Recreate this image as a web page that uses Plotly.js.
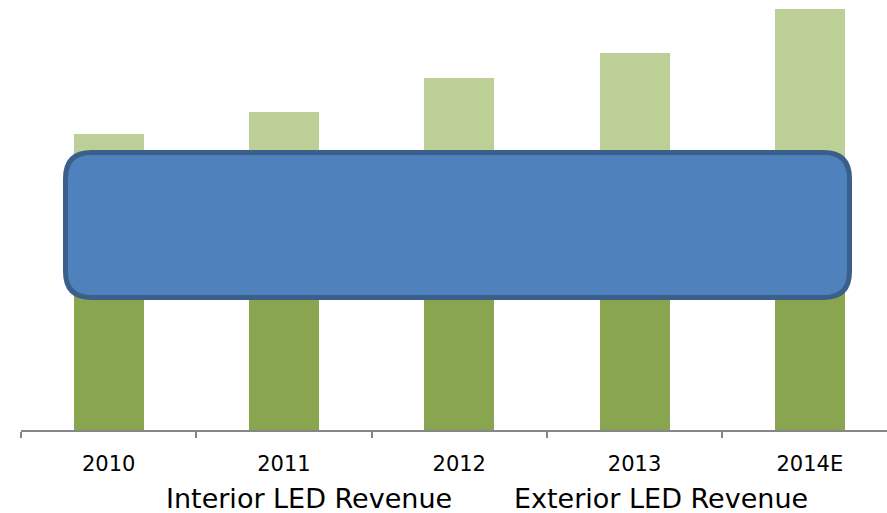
<!DOCTYPE html>
<html>
<head>
<meta charset="utf-8">
<script src="https://cdn.plot.ly/plotly-3.0.1.min.js"></script>
<style>
  html, body { margin: 0; padding: 0; background: #fff; }
  #chart { width: 887px; height: 513px; }
</style>
</head>
<body>
<div id="chart"></div>
<script>
const years = ['2010', '2011', '2012', '2013', '2014E'];
const interiorRevenue = [20, 21, 23, 24, 26];
const exteriorRevenue = [9.6, 10.8, 12.2, 13.7, 16.1];
const seriesNames = ['Interior LED Revenue', 'Exterior LED Revenue'];
const seriesColors = ['#8AA54F', '#BBCF97'];

const FONT = 'DejaVu Sans, Verdana, sans-serif';
const W = 887, H = 513;
const M = { l: 21, r: 0, t: 0, b: 83 };
const plotW = W - M.l - M.r, plotH = H - M.t - M.b;

// helpers converting pixel positions to paper coordinates
const px = x => (x - M.l) / plotW;
const py = y => (plotH + M.t - y) / plotH;

function roundedRect(x0, y0, x1, y1, r) {
  const p = (x, y) => px(x) + ',' + py(y);
  return 'M' + p(x0 + r, y0) +
    ' L' + p(x1 - r, y0) + ' Q' + p(x1, y0) + ' ' + p(x1, y0 + r) +
    ' L' + p(x1, y1 - r) + ' Q' + p(x1, y1) + ' ' + p(x1 - r, y1) +
    ' L' + p(x0 + r, y1) + ' Q' + p(x0, y1) + ' ' + p(x0, y1 - r) +
    ' L' + p(x0, y0 + r) + ' Q' + p(x0, y0) + ' ' + p(x0 + r, y0) + ' Z';
}

const traces = [
  { type: 'bar', x: years, y: interiorRevenue, name: seriesNames[0],
    marker: { color: seriesColors[0] }, hoverinfo: 'skip' },
  { type: 'bar', x: years, y: exteriorRevenue, name: seriesNames[1],
    marker: { color: seriesColors[1] }, hoverinfo: 'skip' }
];

const legendFont = { family: FONT, size: 27, color: '#000000' };

const layout = {
  width: W, height: H,
  margin: M,
  barmode: 'stack',
  bargap: 0.6,
  showlegend: false,
  paper_bgcolor: '#ffffff',
  plot_bgcolor: '#ffffff',
  font: { family: FONT, color: '#000000' },
  xaxis: {
    type: 'category',
    range: [-0.5, 4.44],
    showline: true, linecolor: '#868686', linewidth: 2,
    ticks: 'outside', tickson: 'boundaries', ticklen: 6, tickwidth: 2, tickcolor: '#868686',
    tickfont: { family: FONT, size: 21, color: '#000000' },
    ticklabelstandoff: 14,
    showgrid: false, zeroline: false, fixedrange: true
  },
  yaxis: {
    range: [0, 43],
    visible: false, showgrid: false, zeroline: false, fixedrange: true
  },
  shapes: [{
    type: 'path', xref: 'paper', yref: 'paper', layer: 'above',
    path: roundedRect(65.5, 152.5, 849.5, 297.5, 26),
    fillcolor: '#4F81BD',
    line: { color: '#3A5F8B', width: 5 }
  }],
  annotations: [
    { text: seriesNames[0], xref: 'paper', yref: 'paper', x: px(308.5), y: py(498.5),
      xanchor: 'center', yanchor: 'middle', valign: 'middle', height: 27, showarrow: false,
      font: legendFont },
    { text: seriesNames[1], xref: 'paper', yref: 'paper', x: px(660.5), y: py(498.5),
      xanchor: 'center', yanchor: 'middle', valign: 'middle', height: 27, showarrow: false,
      font: legendFont }
  ]
};

Plotly.newPlot('chart', traces, layout, { displayModeBar: false, staticPlot: true });
</script>
</body>
</html>
